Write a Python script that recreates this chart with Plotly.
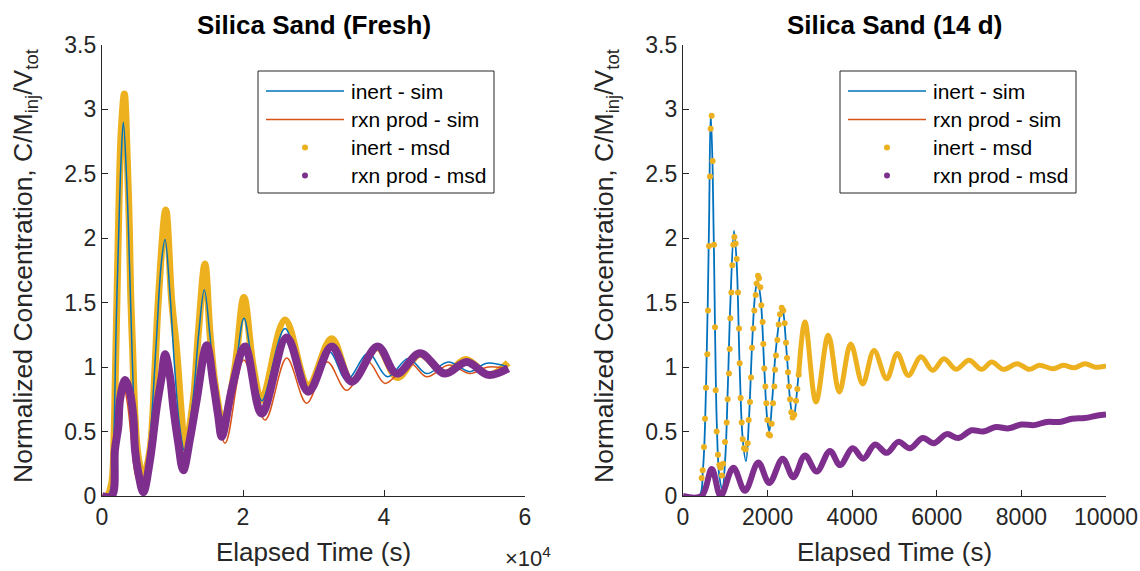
import plotly.graph_objects as go
from plotly.subplots import make_subplots

# ---------------- data : Silica Sand (Fresh) ----------------
t_inert_sim_fresh = [0, 800, 1370, 1700, 2000, 2400, 2700, 3030, 3500, 3900, 4300, 4700, 5200, 5860,
                     6800, 7700, 8400, 8940, 9600, 10300, 11000, 11700, 12900, 13700, 14510, 15300, 16100,
                     17100, 18800, 20130, 21400, 22700, 25960, 29030, 32240, 34700, 37770, 40500, 43450,
                     46050, 49120, 52200, 54560, 57500]
c_inert_sim_fresh = [0, 0, 0.08, 0.5, 1.3, 2.1, 2.6, 2.90, 2.45, 1.8, 1.05, 0.5, 0.2, 0.085,
                     0.45, 1.2, 1.8, 1.99, 1.6, 1.0, 0.55, 0.35, 0.75, 1.25, 1.60, 1.25, 0.8,
                     0.60, 0.95, 1.38, 1.0, 0.74, 1.30, 0.835, 1.12, 0.90, 1.107, 0.925, 1.068,
                     0.95, 1.04, 0.965, 1.03, 1.003]

t_rxn_sim_fresh = [0, 1000, 1500, 2000, 2500, 3030, 3600, 4200, 4800, 5860, 7000, 8000, 9000, 10000,
                   11000, 11800, 14700, 17450, 20100, 23120, 26200, 29030, 31960, 34700, 37770, 40140,
                   43690, 46050, 49200, 52200, 54600, 57500]
c_rxn_sim_fresh = [0, 0, 0.15, 0.5, 0.78, 0.86, 0.72, 0.42, 0.15, 0.03, 0.4, 0.85, 1.05, 0.75,
                   0.35, 0.18, 1.12, 0.41, 1.055, 0.59, 1.07, 0.72, 1.04, 0.82, 1.04, 0.874,
                   1.03, 0.925, 1.016, 0.95, 1.00, 0.99]

t_inert_msd_fresh = [0, 700, 1370, 1700, 1900, 2150, 2400, 2700, 3170, 3590, 3876, 4065, 4350, 4680,
                     5150, 5860, 6810, 7520, 7990, 9050, 9880, 10590, 11300, 11770, 12950, 13660, 14600,
                     15320, 16030, 17200, 18860, 20130, 21460, 22650, 25960, 29260, 32580, 35410, 39050,
                     41900, 45100, 48650, 51600, 54900, 57600]
c_inert_msd_fresh = [0, 0, 0.10, 0.45, 0.95, 1.6, 2.25, 2.8, 3.12, 2.61, 2.09, 1.57, 1.13, 0.62,
                     0.30, 0.15, 0.36, 1.0, 1.52, 2.22, 1.52, 1.13, 0.615, 0.37, 0.745, 1.26, 1.80,
                     1.26, 0.875, 0.57, 1.0, 1.54, 1.0, 0.745, 1.365, 0.86, 1.22, 0.89, 1.15,
                     0.92, 1.10, 0.95, 1.06, 0.94, 1.034]

t_rxn_msd_fresh = [0, 1370, 1840, 2316, 2550, 3260, 3970, 4440, 4680, 5150, 5860, 6810, 7760, 8460,
                   8940, 9645, 10110, 10820, 11530, 12500, 13430, 14850, 15790, 16500, 16980, 18500,
                   20280, 22650, 26200, 29260, 32580, 35410, 39100, 41800, 45100, 48650, 51730, 54800,
                   57630]
c_rxn_msd_fresh = [0, 0, 0.36, 0.54, 0.745, 0.90, 0.80, 0.615, 0.36, 0.18, 0.03, 0.28, 0.69, 0.925,
                   1.10, 0.925, 0.69, 0.41, 0.20, 0.45, 0.745, 1.17, 0.875, 0.615, 0.46, 0.85,
                   1.16, 0.64, 1.23, 0.81, 1.16, 0.887, 1.16, 0.95, 1.107, 0.95, 1.04, 0.94,
                   0.99]

# ---------------- data : Silica Sand (14 d) ----------------
t_inert_sim_14d = [0, 380, 470, 545, 615, 655, 700, 757, 800, 860, 930, 1000, 1060, 1120, 1206, 1270,
                   1340, 1410, 1489, 1560, 1630, 1700, 1757, 1830, 1920, 1990, 2041, 2110, 2200, 2340,
                   2460, 2530, 2608, 2884, 3144, 3435, 3695, 3965, 4248, 4515, 4816, 5066, 5326, 5626,
                   5903, 6170, 6454, 6761, 7061, 7298, 7572, 7903, 8187, 8423, 8754, 8991, 9250, 9504,
                   9750, 10000]
c_inert_sim_14d = [0, 0, 0.2, 0.85, 2.1, 2.97, 2.55, 1.3, 0.55, 0.15, 0.055, 0.3, 0.85, 1.5, 2.06, 1.8,
                   1.0, 0.45, 0.27, 0.6, 1.15, 1.55, 1.67, 1.55, 1.0, 0.6, 0.5, 0.75, 1.15, 1.47,
                   1.07, 0.75, 0.60, 1.33, 0.72, 1.23, 0.80, 1.17, 0.87, 1.12, 0.91, 1.10, 0.94, 1.07,
                   0.97, 1.055, 0.98, 1.045, 0.985, 1.035, 0.985, 1.025, 0.99, 1.014, 0.99, 1.014, 0.995, 1.02,
                   1.0, 1.01]

t_rxn_sim_14d = [0, 420, 680, 890, 1190, 1465, 1780, 2040, 2355, 2610, 2884, 3160, 3475, 3712, 4012,
                 4262, 4539, 4816, 5090, 5366, 5667, 5934, 6234, 6508, 6825, 7100, 7400, 7700, 8000,
                 8300, 8600, 8900, 9200, 9500, 9800, 10000]
c_rxn_sim_14d = [0, 0, 0.2, 0.01, 0.21, 0.05, 0.25, 0.11, 0.28, 0.15, 0.31, 0.2, 0.34, 0.25, 0.37,
                 0.29, 0.40, 0.335, 0.42, 0.37, 0.45, 0.41, 0.48, 0.45, 0.51, 0.50, 0.535, 0.525, 0.555,
                 0.55, 0.575, 0.575, 0.60, 0.605, 0.625, 0.635]

# sparsely sampled early measurements (individual dots)
t_inert_msd_14d_dots = [441, 465, 496, 520, 544, 575, 591, 615, 638, 654, 678, 701, 733, 757, 772, 796,
                        827, 859, 890, 920, 950, 993, 1032, 1056, 1087, 1103, 1119, 1143, 1166, 1190,
                        1214, 1245, 1269, 1300, 1324, 1340, 1363, 1387, 1411, 1442, 1481, 1529, 1552,
                        1584, 1608, 1631, 1663, 1686, 1718, 1741, 1773, 1797, 1828, 1852, 1883, 1899,
                        1923, 1946, 1970, 1994, 2025, 2057, 2096, 2128, 2159, 2175, 2198, 2230, 2262,
                        2293, 2333, 2372, 2404, 2435, 2459, 2482, 2506, 2530, 2561, 2593, 2632, 2671,
                        2703, 2734]
c_inert_msd_14d_dots = [0.14, 0.20, 0.38, 0.60, 0.84, 1.10, 1.44, 1.94, 2.48, 2.85, 2.95, 2.60, 1.95,
                        1.31, 0.82, 0.50, 0.32, 0.24, 0.22, 0.16, 0.25, 0.42, 0.57, 0.75, 0.95, 1.14,
                        1.38, 1.58, 1.79, 1.95, 2.01, 1.96, 1.84, 1.58, 1.30, 1.03, 0.76, 0.57, 0.44,
                        0.37, 0.36, 0.41, 0.59, 0.73, 0.92, 1.15, 1.30, 1.44, 1.56, 1.65, 1.71, 1.69,
                        1.62, 1.48, 1.35, 1.18, 0.99, 0.85, 0.72, 0.59, 0.48, 0.47, 0.56, 0.72, 0.85,
                        0.98, 1.09, 1.21, 1.33, 1.41, 1.46, 1.44, 1.34, 1.19, 1.07, 0.96, 0.85, 0.75,
                        0.65, 0.61, 0.63, 0.74, 0.83, 0.94]
# densely sampled later measurements
t_inert_msd_14d_dense = [2734, 2884, 3144, 3435, 3695, 3965, 4248, 4515, 4816, 5066, 5326, 5626, 5903,
                         6170, 6454, 6761, 7061, 7298, 7572, 7903, 8187, 8423, 8754, 8991, 9250, 9504,
                         9750, 10000]
c_inert_msd_14d_dense = [0.94, 1.35, 0.73, 1.247, 0.807, 1.18, 0.87, 1.13, 0.91, 1.105, 0.936, 1.08, 0.975,
                         1.066, 0.983, 1.053, 0.983, 1.04, 0.983, 1.027, 0.983, 1.014, 0.988, 1.014, 0.995,
                         1.027, 1.0, 1.009]

t_rxn_msd_14d = [0, 440, 680, 890, 1190, 1465, 1780, 2040, 2355, 2608, 2884, 3160, 3475, 3712, 4012,
                 4262, 4539, 4816, 5090, 5366, 5667, 5934, 6234, 6508, 6825, 7100, 7400, 7700, 8000,
                 8300, 8600, 8900, 9200, 9500, 9800, 10000]
c_rxn_msd_14d = [0, 0, 0.21, 0.0, 0.22, 0.04, 0.26, 0.10, 0.29, 0.146, 0.314, 0.19, 0.35, 0.24, 0.37,
                 0.29, 0.40, 0.335, 0.42, 0.37, 0.45, 0.41, 0.48, 0.45, 0.51, 0.50, 0.535, 0.525, 0.555,
                 0.55, 0.575, 0.575, 0.60, 0.605, 0.625, 0.633]

titles = ["Silica Sand (Fresh)", "Silica Sand (14 d)"]
legend_labels = ["inert - sim", "rxn prod - sim", "inert - msd", "rxn prod - msd"]
y_ticks = [0, 0.5, 1, 1.5, 2, 2.5, 3, 3.5]
y_ticktext = ["0", "0.5", "1", "1.5", "2", "2.5", "3", "3.5"]
x_ticks_fresh = [0, 20000, 40000, 60000]
x_ticktext_fresh = ["0", "2", "4", "6"]
x_ticks_14d = [0, 2000, 4000, 6000, 8000, 10000]
x_ticktext_14d = ["0", "2000", "4000", "6000", "8000", "10000"]

# ---------------- style ----------------
BLUE = "#0072BD"
ORANGE = "#D95319"
YELLOW = "#EDB120"
PURPLE = "#7E2F8E"
AX = "#262626"
FONT = "Liberation Sans, Arial, sans-serif"

W, H = 1140, 571
ML, MR, MT, MB = 102, 34, 45, 75
PW = W - ML - MR
PH = H - MT - MB


def PX(px):
    return (px - ML) / PW


def PY(py):
    return (H - MB - py) / PH


fig = make_subplots(rows=1, cols=2, horizontal_spacing=(683 - 525) / PW)

# left panel (order: inert msd, sims, rxn msd)
fig.add_trace(go.Scatter(x=t_inert_msd_fresh, y=c_inert_msd_fresh, mode="lines",
                         line=dict(color=YELLOW, width=7, shape="spline", smoothing=1.0),
                         showlegend=False), row=1, col=1)
fig.add_trace(go.Scatter(x=t_inert_sim_fresh, y=c_inert_sim_fresh, mode="lines",
                         line=dict(color=BLUE, width=1.5, shape="spline", smoothing=1.0),
                         showlegend=False), row=1, col=1)
fig.add_trace(go.Scatter(x=t_rxn_sim_fresh, y=c_rxn_sim_fresh, mode="lines",
                         line=dict(color=ORANGE, width=1.5, shape="spline", smoothing=1.0),
                         showlegend=False), row=1, col=1)
fig.add_trace(go.Scatter(x=t_rxn_msd_fresh, y=c_rxn_msd_fresh, mode="lines",
                         line=dict(color=PURPLE, width=8, shape="spline", smoothing=1.0),
                         showlegend=False), row=1, col=1)

# right panel
fig.add_trace(go.Scatter(x=t_inert_sim_14d, y=c_inert_sim_14d, mode="lines",
                         line=dict(color=BLUE, width=1.8, shape="spline", smoothing=1.0),
                         showlegend=False), row=1, col=2)
fig.add_trace(go.Scatter(x=t_rxn_sim_14d, y=c_rxn_sim_14d, mode="lines",
                         line=dict(color=ORANGE, width=1.5, shape="spline", smoothing=1.0),
                         showlegend=False), row=1, col=2)
fig.add_trace(go.Scatter(x=t_inert_msd_14d_dots, y=c_inert_msd_14d_dots, mode="markers",
                         marker=dict(color=YELLOW, size=6),
                         showlegend=False), row=1, col=2)
fig.add_trace(go.Scatter(x=t_inert_msd_14d_dense, y=c_inert_msd_14d_dense, mode="lines",
                         line=dict(color=YELLOW, width=5, shape="spline", smoothing=1.0),
                         showlegend=False), row=1, col=2)
fig.add_trace(go.Scatter(x=t_rxn_msd_14d, y=c_rxn_msd_14d, mode="lines",
                         line=dict(color=PURPLE, width=6, shape="spline", smoothing=1.0),
                         showlegend=False), row=1, col=2)

axis_common = dict(showline=True, linecolor=AX, linewidth=1.2, ticks="inside", ticklen=6,
                   tickwidth=1.2, tickcolor=AX, showgrid=False, zeroline=False, mirror=False,
                   automargin=False, tickfont=dict(family=FONT, size=23, color=AX))
fig.update_xaxes(**axis_common)
fig.update_yaxes(**axis_common)
fig.update_xaxes(range=[0, 60000], tickvals=x_ticks_fresh, ticktext=x_ticktext_fresh, row=1, col=1)
fig.update_xaxes(range=[0, 10000], tickvals=x_ticks_14d, ticktext=x_ticktext_14d, row=1, col=2)
fig.update_yaxes(range=[0, 3.5], tickvals=y_ticks, ticktext=y_ticktext)

annotations = []
shapes = []
centers = [(102 + 525) / 2, (683 + 1106) / 2]
ylab_x = [25, 606]
for i in range(2):
    annotations.append(dict(text="<b>%s</b>" % titles[i], x=PX(centers[i]), y=PY(25), xref="paper", yref="paper",
                            showarrow=False, xanchor="center", yanchor="middle",
                            font=dict(family=FONT, size=26, color="black")))
    annotations.append(dict(text="Elapsed Time (s)", x=PX(centers[i]), y=PY(552), xref="paper", yref="paper",
                            showarrow=False, xanchor="center", yanchor="middle",
                            font=dict(family=FONT, size=26, color=AX)))
    annotations.append(dict(text="Normalized Concentration, C/M<sub>inj</sub>/V<sub>tot</sub>",
                            x=PX(ylab_x[i]), y=PY(266), xref="paper", yref="paper", textangle=-90,
                            showarrow=False, xanchor="center", yanchor="middle",
                            font=dict(family=FONT, size=26.5, color=AX)))
annotations.append(dict(text="\u00d710<sup>4</sup>", x=PX(528), y=PY(557), xref="paper", yref="paper",
                        showarrow=False, xanchor="center", yanchor="middle",
                        font=dict(family=FONT, size=22, color=AX)))

# legends
legend_left = [258, 840]
legend_w = 236
rows_y = [91, 119.5, 147.5, 175.5]
colors = [BLUE, ORANGE, YELLOW, PURPLE]
for i in range(2):
    bx = legend_left[i]
    shapes.append(dict(type="rect", xref="paper", yref="paper", x0=PX(bx), x1=PX(bx + legend_w),
                       y0=PY(193), y1=PY(71), line=dict(color=AX, width=1), fillcolor="white", layer="above"))
    for k in range(4):
        yy = rows_y[k]
        if k < 2:
            shapes.append(dict(type="line", xref="paper", yref="paper", x0=PX(bx + 8), x1=PX(bx + 86),
                               y0=PY(yy), y1=PY(yy), line=dict(color=colors[k], width=1.5), layer="above"))
        else:
            r = 3
            shapes.append(dict(type="circle", xref="paper", yref="paper", x0=PX(bx + 47 - r), x1=PX(bx + 47 + r),
                               y0=PY(yy + r), y1=PY(yy - r), line=dict(width=0), fillcolor=colors[k], layer="above"))
        annotations.append(dict(text=legend_labels[k], x=PX(bx + 91), y=PY(yy), xref="paper", yref="paper",
                                showarrow=False, xanchor="left", yanchor="middle",
                                font=dict(family=FONT, size=21, color="black")))

fig.update_layout(width=W, height=H, margin=dict(l=ML, r=MR, t=MT, b=MB, autoexpand=False),
                  plot_bgcolor="white", paper_bgcolor="white", showlegend=False,
                  annotations=annotations, shapes=shapes, font=dict(family=FONT, color=AX))

fig.write_html("out.html", config={"displayModeBar": False},
               post_script="document.body.style.margin='0px';document.body.style.overflow='hidden';")
